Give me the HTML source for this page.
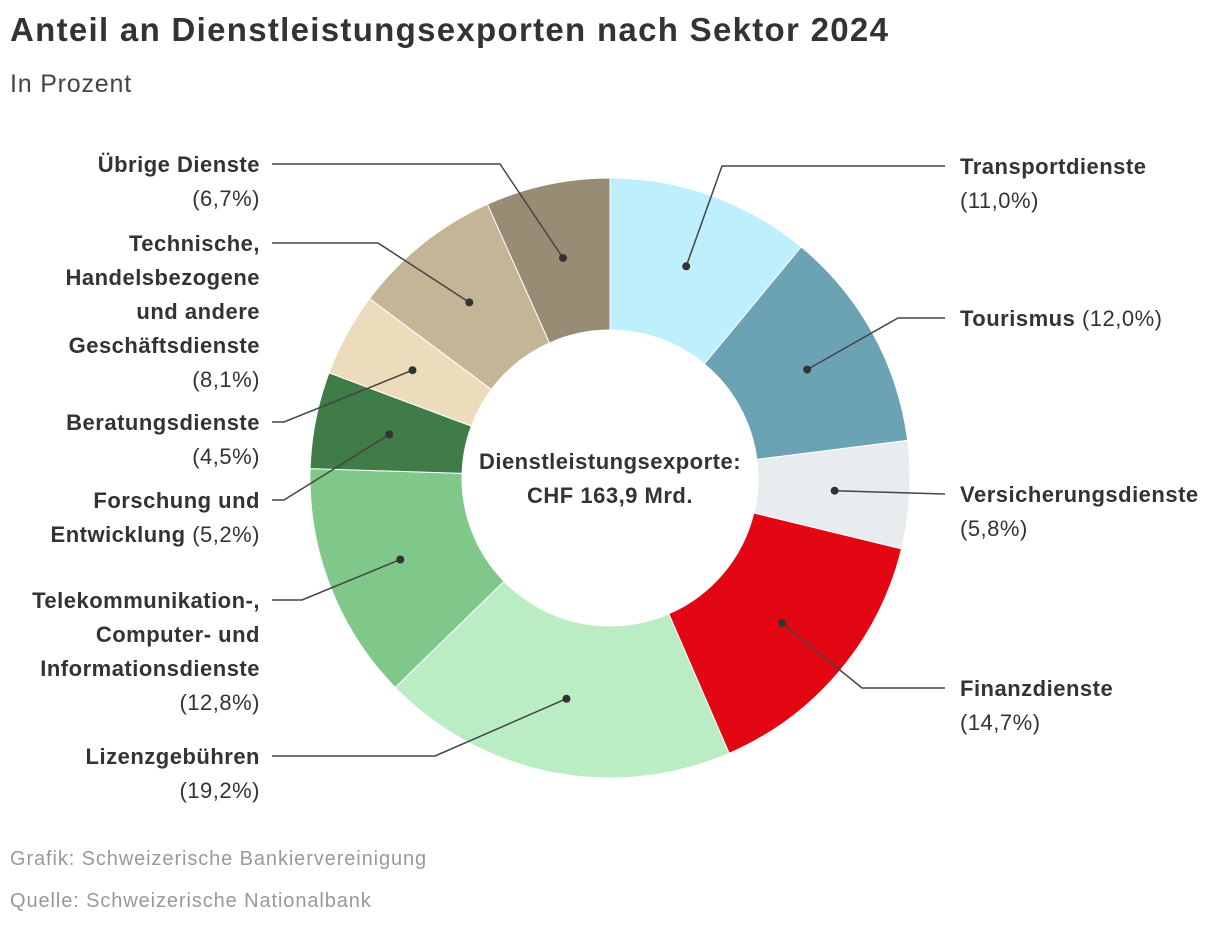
<!DOCTYPE html>
<html><head><meta charset="utf-8"><style>
body{margin:0;background:#fff;width:1220px;height:928px;overflow:hidden;font-family:"Liberation Sans",sans-serif;color:#333}
.t{position:absolute;left:10px;top:11px;font-size:33px;font-weight:bold;color:#333;letter-spacing:1.3px;white-space:nowrap}
.s{position:absolute;left:10px;top:70px;font-size:25px;color:#444;letter-spacing:0.8px}
.f{position:absolute;left:10px;font-size:20px;color:#999;letter-spacing:0.9px}
svg{position:absolute;left:0;top:0}
svg text{letter-spacing:0.5px}
</style></head><body>
<div class="t">Anteil an Dienstleistungsexporten nach Sektor 2024</div>
<div class="s">In Prozent</div>
<svg id="c" width="1220" height="928"></svg>
<div class="f" style="top:848px">Grafik: Schweizerische Bankiervereinigung</div>
<div class="f" style="top:890px">Quelle: Schweizerische Nationalbank</div>
<script>
const categories=[["Transportdienste"],["Tourismus"],["Versicherungsdienste"],["Finanzdienste"],["Lizenzgebühren"],["Telekommunikation-,","Computer- und","Informationsdienste"],["Forschung und","Entwicklung"],["Beratungsdienste"],["Technische,","Handelsbezogene","und andere","Geschäftsdienste"],["Übrige Dienste"]];
const values=[11.0,12.0,5.8,14.7,19.2,12.8,5.2,4.5,8.1,6.7];
const labels=["11,0%","12,0%","5,8%","14,7%","19,2%","12,8%","5,2%","4,5%","8,1%","6,7%"];
const colors=["#bdeffc","#6ba3b4","#e8ecef","#e30613","#bbedc4","#80c88a","#3f7c48","#ecdcbc","#c4b597","#988c74"];
// layout: label anchor [x, y of first line, side], elbow [x,y]
const layout=[[960,166,1,722,166],[960,318,1,898,318],[960,494,1,945,494],[960,688,1,862,688],[260,756,0,435,756],[260,600,0,302,600],[260,500,0,284,500],[260,422,0,284,422],[260,243,0,378,243],[260,164,0,500,164]];
const svg=document.getElementById('c'),NS="http://www.w3.org/2000/svg";
const cx=610,cy=478,R=300,r=148,rd=225;
const total=values.reduce((a,b)=>a+b,0);
const ang=v=>v/total*2*Math.PI;
function pt(a,rr){return [cx+rr*Math.sin(a),cy-rr*Math.cos(a)];}
function mk(t,at){const e=document.createElementNS(NS,t);for(const k in at)e.setAttribute(k,at[k]);svg.appendChild(e);return e;}
let a0=0;const mids=[];
values.forEach((v,i)=>{const a1=a0+ang(v);const [x1,y1]=pt(a0,R),[x2,y2]=pt(a1,R),[x3,y3]=pt(a1,r),[x4,y4]=pt(a0,r);const lg=a1-a0>Math.PI?1:0;
const p=mk('path',{d:`M${x1},${y1}A${R},${R} 0 ${lg} 1 ${x2},${y2}L${x3},${y3}A${r},${r} 0 ${lg} 0 ${x4},${y4}Z`,fill:colors[i],stroke:'#fff','stroke-width':1});


mids.push((a0+a1)/2);a0=a1;});
values.forEach((v,i)=>{const [dx,dy]=pt(mids[i],rd);const L=layout[i];const ex=L[2]?945:272;
const pl=mk('polyline',{points:`${dx},${dy} ${L[3]},${L[4]} ${ex},${L[4]}`,fill:'none',stroke:'#444','stroke-width':1.5});


const c=mk('circle',{cx:dx,cy:dy,r:4,fill:'#333'});


const lines=categories[i];const anchor=L[2]?'start':'end';
const inline=(i===1||i===6);
lines.forEach((ln,j)=>{const t=mk('text',{x:L[0],y:L[1]+8+j*34,'text-anchor':anchor,'font-size':22,fill:'#333'});


const b=document.createElementNS(NS,'tspan');b.setAttribute('font-weight','bold');b.textContent=ln;t.appendChild(b);
if(inline&&j===lines.length-1){const s=document.createElementNS(NS,'tspan');s.textContent=' ('+labels[i]+')';t.appendChild(s);}});
if(!inline){const t=mk('text',{x:L[0],y:L[1]+8+lines.length*34,'text-anchor':anchor,'font-size':22,fill:'#333'});t.textContent='('+labels[i]+')';

}
});
const c1=mk('text',{x:cx,y:469,'text-anchor':'middle','font-size':22,'font-weight':'bold',fill:'#333'});c1.textContent='Dienstleistungsexporte:';


const c2=mk('text',{x:cx,y:503,'text-anchor':'middle','font-size':22,'font-weight':'bold',fill:'#333'});c2.textContent='CHF 163,9 Mrd.';


</script>
</body></html>
